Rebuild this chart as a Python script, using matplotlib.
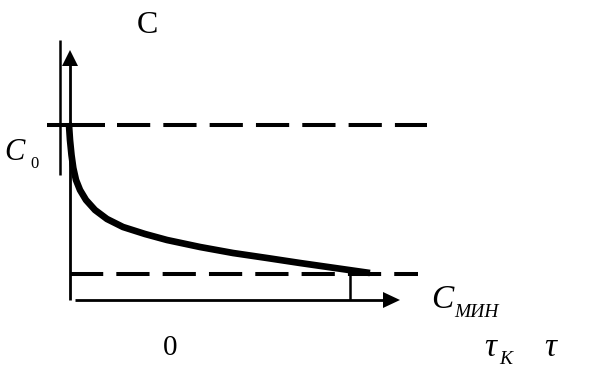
import matplotlib
matplotlib.use("Agg")
import matplotlib.pyplot as plt

# curve C(tau), in picture units (x to the right, y downwards)
curve_x = [68.5, 69, 70, 71.5, 73.3, 76, 80, 86, 95, 107, 123, 145, 167, 200, 233, 267, 300, 335, 370]
curve_y = [123, 125, 140, 155, 168, 180, 190, 200, 210, 219, 227, 234, 240, 247, 253, 258, 263, 268, 273]

# levels and axes
c0_level = 125
cmin_level = 274
origin = (70, 300)
y_axis_top = 50
x_axis_end = 400
tau_k = 350

SERIF = "Liberation Serif"

fig = plt.figure(figsize=(5.95, 3.73), dpi=100)
ax = fig.add_axes([0, 0, 1, 1])
ax.set_xlim(0, 595)
ax.set_ylim(373, 0)
ax.axis("off")

# thin line left of the C axis
ax.plot([60, 60], [40, 175], color="black", lw=1.8, solid_capstyle="butt")

# vertical axis with arrow
ax.plot([origin[0], origin[0]], [origin[1], y_axis_top + 14], color="black", lw=2, solid_capstyle="butt")
ax.fill([origin[0] - 8, origin[0] + 8, origin[0]], [y_axis_top + 16, y_axis_top + 16, y_axis_top],
        color="black", lw=0)

# horizontal axis with arrow
ax.plot([75, x_axis_end - 15], [origin[1], origin[1]], color="black", lw=2, solid_capstyle="butt")
ax.fill([x_axis_end - 17, x_axis_end - 17, x_axis_end], [origin[1] - 8, origin[1] + 8, origin[1]],
        color="black", lw=0)

# dashed C0 level
ax.plot([47, 105], [c0_level, c0_level], color="black", lw=2.9, solid_capstyle="butt")
ax.plot([117, 427], [c0_level, c0_level], color="black", lw=2.9,
        linestyle=(0, (33 / 4, 13 / 4)), dash_capstyle="butt")

# dashed Cmin level
ax.plot([70, 418], [cmin_level, cmin_level], color="black", lw=2.9,
        linestyle=(0, (33 / 4, 13 / 4)), dash_capstyle="butt")

# tau_k mark
ax.plot([tau_k, tau_k], [cmin_level, origin[1]], color="black", lw=1.8, solid_capstyle="butt")

# the curve
ax.plot(curve_x, curve_y, color="black", lw=4.8, solid_capstyle="butt", solid_joinstyle="round")

# labels
ax.text(137, 33, "C", fontsize=23, family=SERIF, ha="left", va="baseline")
ax.text(4, 160, "C", fontsize=22, family=SERIF, style="italic", ha="left", va="baseline")
ax.text(30, 168, "0", fontsize=12, family=SERIF, ha="left", va="baseline")
ax.text(431, 308, "C", fontsize=24, family=SERIF, style="italic", ha="left", va="baseline")
ax.text(454, 317, "МИН", fontsize=14, family=SERIF, style="italic", ha="left", va="baseline")
ax.text(163, 355, "0", fontsize=21, family=SERIF, ha="left", va="baseline")
ax.text(484, 356, "τ", fontsize=24, family=SERIF, style="italic", ha="left", va="baseline")
ax.text(499, 364, "К", fontsize=14, family=SERIF, style="italic", ha="left", va="baseline")
ax.text(544, 356, "τ", fontsize=24, family=SERIF, style="italic", ha="left", va="baseline")

fig.savefig("out.png", dpi=100)
